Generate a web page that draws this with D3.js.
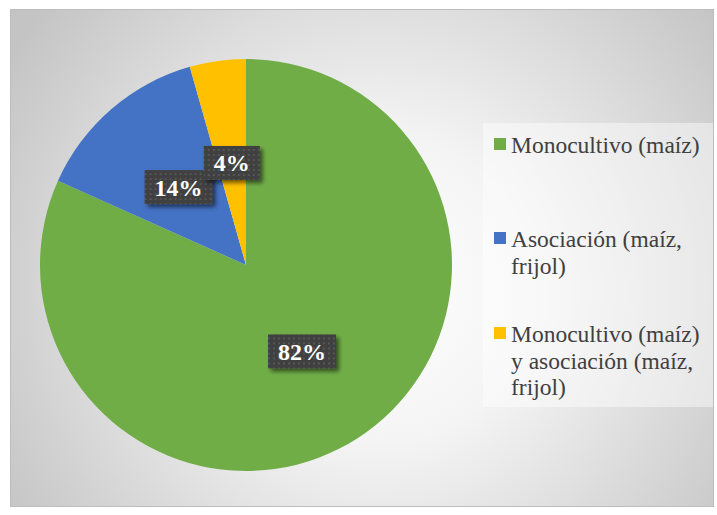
<!DOCTYPE html>
<html><head><meta charset="utf-8">
<script src="https://cdn.jsdelivr.net/npm/d3@7"></script>
<style>body{margin:0;background:#fff}svg{display:block}</style>
</head><body>
<svg id="c" width="717" height="515"></svg>
<script>
const categories = ["Monocultivo (maíz)", "Asociación (maíz, frijol)", "Monocultivo (maíz) y asociación (maíz, frijol)"];
const values = [81.7, 13.9, 4.4];
const labels = ["82%", "14%", "4%"];
const legendLines = [["Monocultivo (maíz)"], ["Asociación (maíz,", "frijol)"], ["Monocultivo (maíz)", "y asociación (maíz,", "frijol)"]];
const colors = ["#70ad47", "#4472c4", "#ffc000"];
const FONT = '"Liberation Serif", "Times New Roman", serif';

const svg = d3.select("#c");
const defs = svg.append("defs");
const rg = defs.append("radialGradient").attr("id","bg").attr("gradientUnits","userSpaceOnUse")
  .attr("cx",380).attr("cy",290).attr("r",440);
rg.append("stop").attr("offset","0").attr("stop-color","#ffffff");
rg.append("stop").attr("offset","0.35").attr("stop-color","#f4f4f4");
rg.append("stop").attr("offset","1").attr("stop-color","#c4c4c4");

const pat = defs.append("pattern").attr("id","dots").attr("patternUnits","userSpaceOnUse")
  .attr("width",5).attr("height",5);
pat.append("rect").attr("width",5).attr("height",5).attr("fill","#404040");
pat.append("rect").attr("x",1).attr("y",1).attr("width",2).attr("height",2).attr("fill","#555555");

const f = defs.append("filter").attr("id","sh").attr("x","-30%").attr("y","-30%").attr("width","160%").attr("height","160%");
f.append("feGaussianBlur").attr("in","SourceAlpha").attr("stdDeviation",2);
f.append("feOffset").attr("dx",3).attr("dy",3).attr("result","o");
f.append("feComponentTransfer").append("feFuncA").attr("type","linear").attr("slope",0.55);
const m = f.append("feMerge"); m.append("feMergeNode"); m.append("feMergeNode").attr("in","SourceGraphic");

svg.append("rect").attr("x",10.5).attr("y",9.5).attr("width",703).attr("height",497)
  .attr("fill","url(#bg)").attr("stroke","#bdbdbd").attr("stroke-width",1);

const cx = 246, cy = 265, R = 206;
const pie = d3.pie().sort(null).value(d=>d)(values);
const arc = d3.arc().innerRadius(0).outerRadius(R);
const g = svg.append("g").attr("transform",`translate(${cx},${cy})`);
g.selectAll("path").data(pie).join("path").attr("d",arc).attr("fill",(d,i)=>colors[i]);

const lArc = d3.arc().innerRadius(R*0.5).outerRadius(R*0.5);
pie.forEach((d,i)=>{
  const [x,y] = lArc.centroid(d);
  const lg = g.append("g").attr("transform",`translate(${x},${y})`);
  const t = lg.append("text").attr("text-anchor","middle").attr("dy","0.35em")
    .style("font-family",FONT).style("font-weight","bold").style("font-size","24px")
    .attr("fill","#ffffff").text(labels[i]);
  const w = t.node().getComputedTextLength() + 20;
  lg.insert("rect","text").attr("x",-w/2).attr("y",-17).attr("width",w).attr("height",34)
    .attr("fill","url(#dots)").attr("filter","url(#sh)");
});

// legend
svg.append("rect").attr("x",483).attr("y",123).attr("width",230).attr("height",284)
  .attr("fill","#ffffff").attr("opacity",0.45);
const baselines = [153, 247, 342];
const leg = svg.append("g");
legendLines.forEach((lines,i)=>{
  leg.append("rect").attr("x",494).attr("y",baselines[i]-15).attr("width",12).attr("height",12).attr("fill",colors[i]);
  const t = leg.append("text").attr("x",511).attr("y",baselines[i])
    .style("font-family",FONT).style("font-size","23.5px").attr("fill","#404040");
  lines.forEach((ln,j)=>{
    t.append("tspan").attr("x",511).attr("y",baselines[i]+j*26.5).text(ln);
  });
});
</script>
</body></html>
